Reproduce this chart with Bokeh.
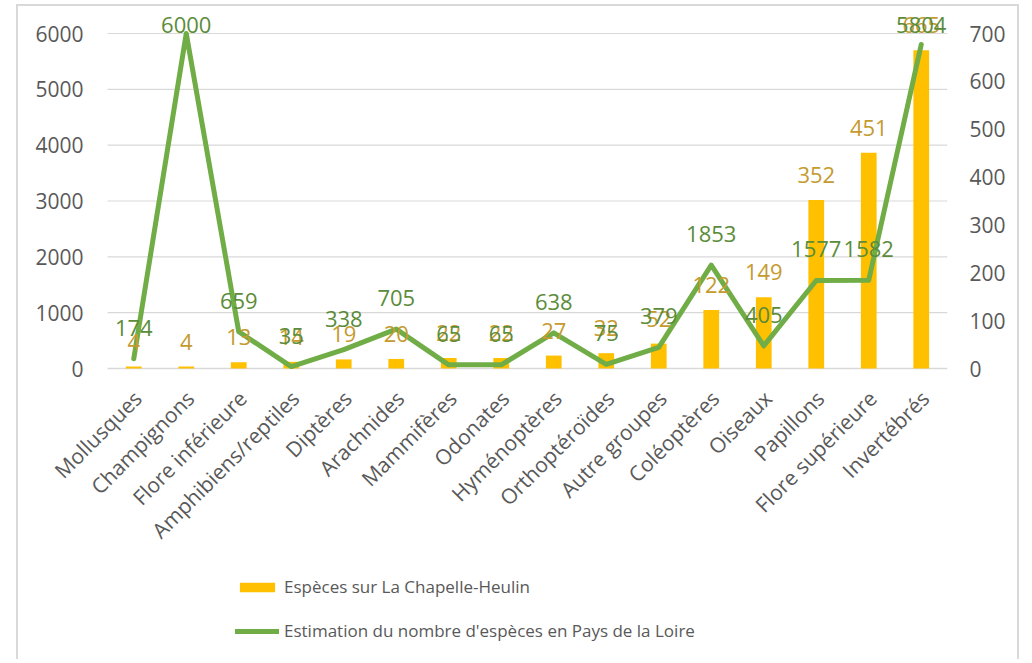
from math import pi
from bokeh.plotting import figure
from bokeh.models import (ColumnDataSource, Range1d, LinearAxis, FixedTicker,
                          Legend, LegendItem, LabelSet)
from bokeh.core.properties import value
from bokeh.embed import file_html
from bokeh.resources import INLINE

# ---------------- data ----------------
categories = ["Mollusques", "Champignons", "Flore inférieure", "Amphibiens/reptiles",
              "Diptères", "Arachnides", "Mammifères", "Odonates", "Hyménoptères",
              "Orthoptéroïdes", "Autre groupes", "Coléoptères", "Oiseaux",
              "Papillons", "Flore supérieure", "Invertébrés"]
especes_chapelle = [4, 4, 13, 14, 19, 20, 22, 22, 27, 32, 52, 122, 149, 352, 451, 665]
estimation_pdl = [174, 6000, 659, 35, 338, 705, 65, 65, 638, 75, 379, 1853, 405,
                  1577, 1582, 5804]
left_ticks = [0, 1000, 2000, 3000, 4000, 5000, 6000]
right_ticks = [0, 100, 200, 300, 400, 500, 600, 700]
legend_labels = ["Espèces sur La Chapelle-Heulin",
                 "Estimation du nombre d'espèces en Pays de la Loire"]

# ---------------- layout constants ----------------
W, H = 1003, 655
BL, BR, BT, BB = 6, 74, 6, 4
FRAME_W = W - BL - BR
FRAME_H = H - BT - BB            # frame reaches down to hold the legend
PLOT_LEFT = 83                   # px from frame left to the first category slot
ZERO_FROM_TOP = 356              # px from frame top to the zero line
TICK_SPAN = 335                  # px between 0 and the top tick
LEFT_MAX, RIGHT_MAX = 6000, 700
N = len(categories)
SLOT = (FRAME_W - PLOT_LEFT) / N


def yrange(vmax):
    per_px = vmax / TICK_SPAN
    return Range1d(-(FRAME_H - ZERO_FROM_TOP) * per_px, ZERO_FROM_TOP * per_px)


FONT = "Open Sans"
TICK_COLOR = "#595959"
BAR_COLOR = "#FFC000"
LINE_COLOR = "#70AD47"
BAR_LABEL_COLOR = "#C59A2E"
LINE_LABEL_COLOR = "#5B8C3A"
GRID_COLOR = "#D9D9D9"


def label_offsets(vals, vmax, above, min_top):
    offs = []
    for v in vals:
        py = ZERO_FROM_TOP - v / vmax * TICK_SPAN   # px from frame top
        target = max(py - above, min_top)            # label centre, clamped
        offs.append(py - target)                     # positive = upward
    return offs


xpos = list(range(N))
src = ColumnDataSource(dict(
    x=xpos,
    cat=categories,
    chap=especes_chapelle,
    est=estimation_pdl,
    zero=[0] * N,
    chap_txt=[str(v) for v in especes_chapelle],
    est_txt=[str(v) for v in estimation_pdl],
    chap_off=label_offsets(especes_chapelle, RIGHT_MAX, 25, 12),
    est_off=label_offsets(estimation_pdl, LEFT_MAX, 31, 12),
))

p = figure(x_range=Range1d(-0.5 - PLOT_LEFT / SLOT, N - 0.5), y_range=yrange(LEFT_MAX),
           width=W, height=H, output_backend="svg", toolbar_location=None,
           min_border_left=BL, min_border_right=BR, min_border_top=BT,
           min_border_bottom=BB)
p.extra_y_ranges = {"right": yrange(RIGHT_MAX)}
p.outline_line_color = None
p.background_fill_color = "white"
p.border_fill_color = "white"
p.margin = (4, 0, 0, 16)
p.styles = {"border-left": "2px solid #D9D9D9", "border-top": "2px solid #D9D9D9",
            "border-right": "2px solid #D9D9D9"}

# horizontal grid, spanning the category slots only
p.xgrid.grid_line_color = None
p.ygrid.grid_line_color = None
grid_src = ColumnDataSource(dict(y=left_ticks, x0=[-0.5] * len(left_ticks),
                                 x1=[N - 0.5] * len(left_ticks),
                                 w=[1.6] + [1.1] * (len(left_ticks) - 1)))
p.segment(x0="x0", y0="y", x1="x1", y1="y", source=grid_src,
          line_color=GRID_COLOR, line_width="w")

# y axes
la = p.yaxis[0]
la.ticker = FixedTicker(ticks=left_ticks)
right_axis = LinearAxis(y_range_name="right", ticker=FixedTicker(ticks=right_ticks))
p.add_layout(right_axis, "right")
for ax, so in [(la, 24 - PLOT_LEFT), (right_axis, 22)]:
    ax.axis_line_color = None
    ax.major_tick_line_color = None
    ax.minor_tick_line_color = None
    ax.major_tick_out = 0
    ax.major_tick_in = 0
    ax.major_label_standoff = int(so)
    ax.major_label_text_font = FONT
    ax.major_label_text_font_size = "21px"
    ax.major_label_text_color = TICK_COLOR

# category names at the zero line on the x scale
p.xaxis.visible = False
cat_labels = LabelSet(x="x", y="zero", text="cat", source=src,
                      angle=pi / 4, text_align="right", text_baseline="middle",
                      x_offset=4, y_offset=-26,
                      text_font=value(FONT), text_font_size="21px",
                      text_color=TICK_COLOR)
p.add_layout(cat_labels)

# glyphs
bars = p.vbar(x="x", top="chap", width=0.3, source=src, y_range_name="right",
              fill_color=BAR_COLOR, line_color=None)
line = p.line(x="x", y="est", source=src, line_color=LINE_COLOR, line_width=5,
              line_join="round", line_cap="round")

# data labels
bar_labels = LabelSet(x="x", y="chap", text="chap_txt", source=src,
                      y_range_name="right", y_offset="chap_off",
                      text_align="center", text_baseline="middle",
                      text_font=value(FONT), text_font_size="22px",
                      text_color=BAR_LABEL_COLOR)
line_labels = LabelSet(x="x", y="est", text="est_txt", source=src,
                       y_offset="est_off",
                       text_align="center", text_baseline="middle",
                       text_font=value(FONT), text_font_size="22px",
                       text_color=LINE_LABEL_COLOR)
p.add_layout(bar_labels)
p.add_layout(line_labels)

# legend
legend = Legend(items=[LegendItem(label=legend_labels[0], renderers=[bars]),
                       LegendItem(label=legend_labels[1], renderers=[line])],
                location=(PLOT_LEFT + 128, 15), orientation="vertical",
                glyph_width=44, glyph_height=12, label_height=20,
                spacing=21, label_standoff=5, padding=0, margin=0,
                border_line_color=None, background_fill_alpha=0,
                label_text_font=FONT, label_text_font_size="17px",
                label_text_color=TICK_COLOR)
p.add_layout(legend, "center")

open("out.html", "w").write(file_html(p, INLINE))
